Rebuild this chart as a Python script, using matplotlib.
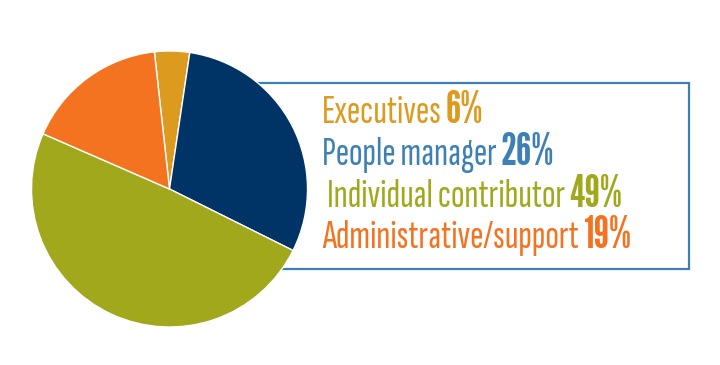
import matplotlib
matplotlib.use("Agg")
import matplotlib.pyplot as plt
from matplotlib.patches import Rectangle

# slice shares as drawn in the picture (clockwise from the top)
labels = ["Executives", "People manager", "Individual contributor", "Administrative/support"]
shares = [4.1, 30.0, 49.2, 16.7]
label_pct = ["6%", "26%", "49%", "19%"]
colors = ["#dc9a1e", "#003366", "#a2a81b", "#f47321"]
text_colors = ["#dc9a1e", "#3d80b5", "#a2a81b", "#f47321"]

W, H = 720, 365
fig = plt.figure(figsize=(7.2, 3.65), dpi=100)
ax = fig.add_axes([0, 0, 1, 1])
ax.axis("off")

# outline box behind the pie
box = Rectangle((258, H - 269), 689 - 258, 269 - 83, fill=False,
                edgecolor="#3d80b5", lw=1.6, zorder=1)
ax.add_patch(box)

ax.pie(shares, colors=colors, startangle=96.3, counterclock=False,
       center=(169.5, H - 189), radius=138,
       wedgeprops=dict(edgecolor="white", linewidth=1.0, zorder=2))
ax.set_xlim(0, W)
ax.set_ylim(0, H)
ax.set_aspect("equal")

fam = ["Sofia Sans Extra Condensed", "DejaVu Sans"]
fam_pct = ["League Gothic", "DejaVu Sans"]
fs = 29
fs_pct = 32
base_y = [123, 165, 207, 248]
x0 = [322, 322, 327, 322]
for lab, pct, c, y, x in zip(labels, label_pct, text_colors, base_y, x0):
    t = ax.text(x, H - y, lab, color=c, fontsize=fs, family=fam,
                fontweight="light", va="baseline", ha="left", zorder=3)
    fig.canvas.draw()
    bb = t.get_window_extent()
    ax.text(bb.x1 + 4, H - y, pct, color=c, fontsize=fs_pct, family=fam_pct,
            va="baseline", ha="left", zorder=3)

fig.savefig("out.png", dpi=100)
